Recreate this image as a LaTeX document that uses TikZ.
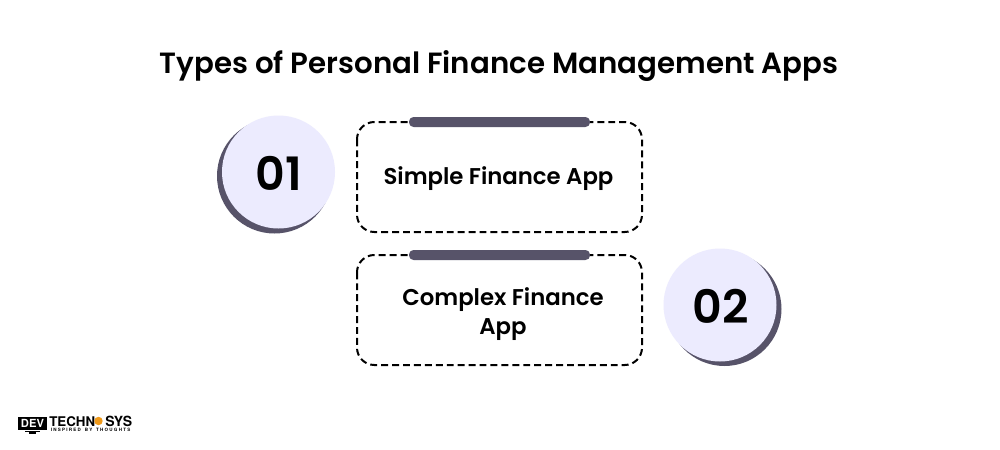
\documentclass[tikz,border=0pt]{standalone}
\usepackage{fontspec}
\setmainfont{Poppins}[BoldFont={Poppins SemiBold}]
\newfontfamily\heros{TeX Gyre Heros}[BoldFont={TeX Gyre Heros Bold}]
\definecolor{slatec}{HTML}{575369}
\definecolor{lilac}{HTML}{ECEBFE}
\definecolor{orangec}{HTML}{F09A1A}
\tikzset{
 boxdash/.style={draw=black,line width=1.5pt,dash pattern=on 5.2pt off 3pt,rounded corners=13pt},
 bar/.style={fill=slatec,rounded corners=3.4pt},
 disc/.style={fill=lilac},
 shade/.style={fill=slatec},
 num/.style={font=\fontsize{34.5}{34.5}\selectfont\bfseries,text=black},
 lab/.style={font=\fontsize{17.1}{21.5}\selectfont\bfseries,text=black,align=center},
 logotext/.style={font=\heros\fontsize{10}{9}\selectfont\bfseries,text=black,inner sep=0,anchor=west},
}
\begin{document}
\begin{tikzpicture}[x=0.75pt,y=-0.75pt]
\useasboundingbox (0,0) rectangle (1000,450);
\fill[white] (0,0) rectangle (1000,450);
\node[font=\fontsize{21.95}{28}\selectfont\bfseries] (title) at (499,66) {Types of Personal Finance Management Apps};
% 01
\fill[shade] (274.5,176) circle[radius=57.5];
\fill[disc] (278.5,172) circle[radius=56.5];
\node[num] (n1) at (278.5,173) {01};
\draw[boxdash] (357,122) rectangle (642,232);
\fill[bar] (409,117) rectangle (590,127);
\node[lab] (l1) at (498.5,178.5) {Simple Finance App};
% 02
\draw[boxdash] (357,255) rectangle (642,365);
\fill[bar] (409,250) rectangle (590,260);
\node[lab] (l2) at (503,314) {Complex Finance\\App};
\fill[shade] (724.5,309) circle[radius=57];
\fill[disc] (720,305) circle[radius=56.5];
\node[num] (n2) at (721,306) {02};
% logo
\fill[black] (18,417) rectangle (47,430);
\fill[black] (25,431) rectangle (40,432);
\fill[black] (29,432) rectangle (36,434);
\node[font=\heros\fontsize{8.4}{8}\selectfont\bfseries,text=white,inner sep=0] (dev) at (32.5,423.8) {DEV};
\node[logotext] (tech) at (49,421.5) {TECHN};
\fill[orangec] (98.5,421) circle[radius=4.2];
\node[font=\heros\fontsize{10.5}{9}\selectfont\bfseries,text=black,inner sep=0,anchor=west] (sys) at (105,421.5) {SYS};
\node[font=\heros\fontsize{3.4}{4}\selectfont\bfseries,text=black,inner sep=0,anchor=west] (tag) at (50.5,429.8) {I\;N\;S\;P\;I\;R\;E\;D\ \ \ B\;Y\ \ \ T\;H\;O\;U\;G\;H\;T\;S};
\end{tikzpicture}
\end{document}
